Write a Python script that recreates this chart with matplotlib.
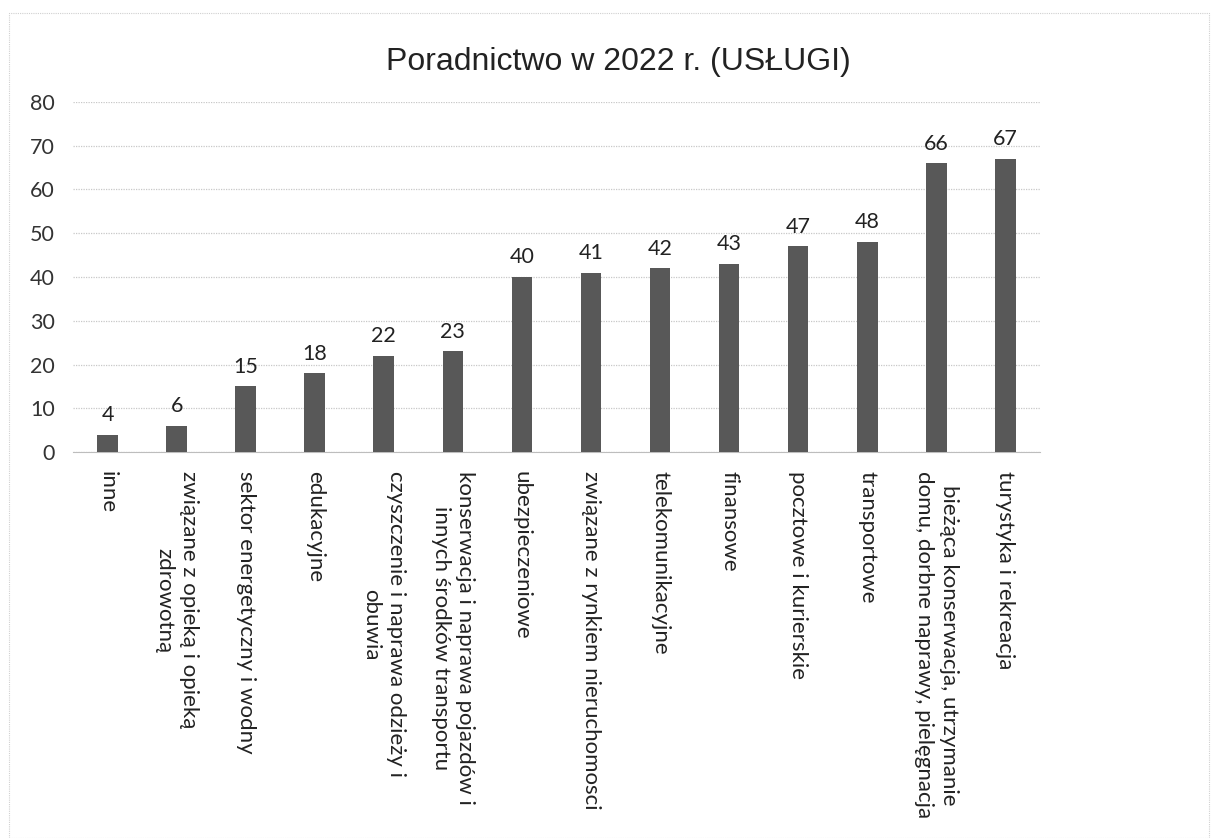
import matplotlib
matplotlib.use("Agg")
import matplotlib.pyplot as plt
from matplotlib.patches import Rectangle

categories = [
    "inne",
    "związane z opieką i opieką\nzdrowotną",
    "sektor energetyczny i wodny",
    "edukacyjne",
    "czyszczenie i naprawa odzieży i\nobuwia",
    "konserwacja i naprawa pojazdów i\ninnych środków transportu",
    "ubezpieczeniowe",
    "związane z rynkiem nieruchomosci",
    "telekomunikacyjne",
    "finansowe",
    "pocztowe i kurierskie",
    "transportowe",
    "bieżąca konserwacja, utrzymanie\ndomu, dorbne naprawy, pielęgnacja",
    "turystyka i rekreacja",
]
values = [4, 6, 15, 18, 22, 23, 40, 41, 42, 43, 47, 48, 66, 67]
yticks = [0, 10, 20, 30, 40, 50, 60, 70, 80]
title = "Poradnictwo w 2022 r. (USŁUGI)"

plt.rcParams['font.family'] = ['Lato', 'DejaVu Sans']

fig = plt.figure(figsize=(12.19, 8.38), dpi=100)
ax = fig.add_axes([0.06, 0.4606, 0.793, 0.4177])

x = list(range(len(categories)))
ax.bar(x, values, width=0.3, color="#585858", zorder=3)
for xi, v in zip(x, values):
    ax.text(xi, v + 2.2, str(v), ha="center", va="bottom", fontsize=15.5, color="#222222")

ax.set_xlim(-0.5, len(categories) - 0.5)
ax.set_ylim(0, 80)
ax.set_yticks(yticks)
ax.set_yticklabels([str(t) for t in yticks], fontsize=15.5, color="#333333")
ax.set_xticks(x)
ax.set_xticklabels(categories, rotation=270, fontsize=16, color="#222222",
                   ha="center", va="top", multialignment="center",
                   linespacing=1.3)
ax.tick_params(axis="both", length=0)
ax.tick_params(axis="x", pad=14)
ax.tick_params(axis="y", pad=13)
ax.grid(axis="y", color="#c8c8c8", linewidth=0.9, linestyle=(0, (1, 1)), zorder=0)
for s in ["top", "right", "left"]:
    ax.spines[s].set_visible(False)
ax.spines["bottom"].set_color("#bdbdbd")
ax.spines["bottom"].set_linestyle((0, (1, 1)))

fig.text(0.507, 0.926, title, ha="center", va="center", fontsize=23,
         family=["Liberation Sans", "DejaVu Sans"], color="#222222")

fig.patches.append(Rectangle((0.007, 0.0), 0.985, 0.985, transform=fig.transFigure,
                             fill=False, edgecolor="#d0d0d0", linewidth=0.8,
                             linestyle=(0, (1, 1))))

fig.savefig("out.png", dpi=100)
